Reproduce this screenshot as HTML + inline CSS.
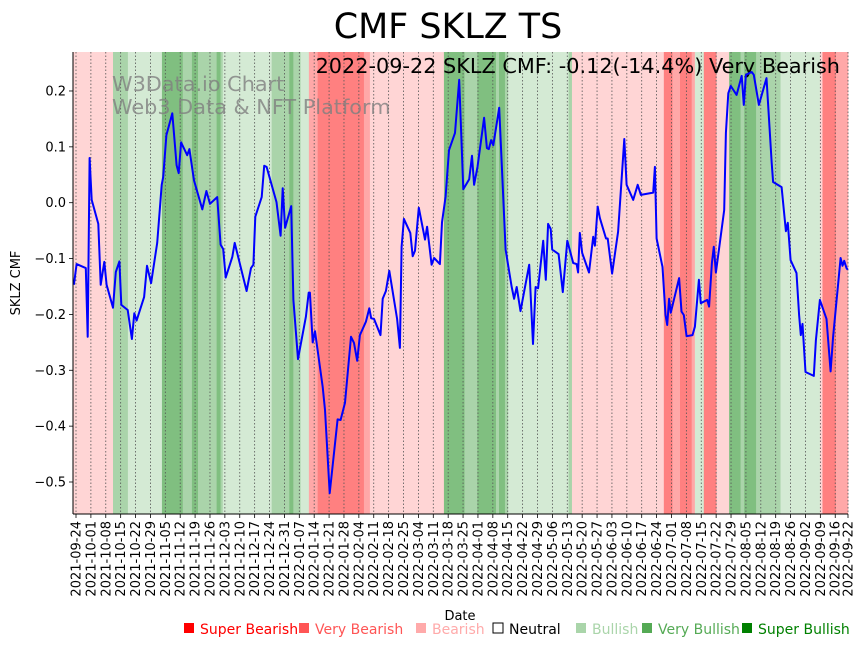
<!DOCTYPE html>
<html><head><meta charset="utf-8"><style>
body{margin:0;background:#fff;}
svg{display:block;font-family:"DejaVu Sans","Liberation Sans",sans-serif;}
</style></head><body>
<svg id="chart" width="867" height="646" viewBox="0 0 867 646">
<text x="448" y="38" font-size="34.9" text-anchor="middle">CMF SKLZ TS</text>
<g id="bands"></g>
<g id="grid"></g>
<text x="112" y="91" font-size="20.8" fill="#808080" fill-opacity="0.8">W3Data.io Chart</text>
<text x="112" y="114" font-size="20.8" fill="#808080" fill-opacity="0.8">Web3 Data &amp; NFT Platform</text>
<text x="840" y="73" font-size="20.8" text-anchor="end">2022-09-22 SKLZ CMF: -0.12(-14.4%) Very Bearish</text>
<path id="line" fill="none" stroke="#0000ff" stroke-width="2" stroke-linejoin="round"></path>
<g id="axes"></g>
<text transform="translate(20,283) rotate(-90)" font-size="13" text-anchor="middle">SKLZ CMF</text>
<text x="460" y="620" font-size="13" text-anchor="middle">Date</text>
<g id="legend" font-size="14"></g>
</svg>
<script>
const yTicks=[0.2,0.1,0.0,-0.1,-0.2,-0.3,-0.4,-0.5];
const yTickLabels=["0.2","0.1","0.0","−0.1","−0.2","−0.3","−0.4","−0.5"];
const startDate="2021-09-24";
const totalDays=363;
const bandStart=[-1.5,17.4,24.4,40.4,50.2,54.5,57.4,66.1,68,69,92,100.3,102.2,105.6,109.5,113.6,135.4,138.2,173,182.7,188.7,197.5,198.9,201.7,203.2,231.6,233.2,276.4,280.5,284,289.5,291,295.2,301.2,307.1,312.5,314.2,319.8,331.3,349.8,351,357.3];
const bandEnd=[17.4,24.4,40.4,50.2,54.5,57.4,66.1,68,69,92,100.3,102.2,105.6,109.5,113.6,135.4,138.2,173,182.7,188.7,197.5,198.9,201.7,203.2,231.6,233.2,276.4,280.5,284,289.5,291,295.2,301.2,307.1,312.5,314.2,319.8,331.3,349.8,351,357.3,363.5];
const bandLevel=[-1,2,1,3,2,3,2,3,2,1,2,3,2,1,-2,-3,-2,-1,3,2,3,2,3,2,1,2,-1,-3,-2,-3,-2,1,-3,-1,3,2,3,2,1,-1,-3,-2];
const days=[-1,0.3,4.6,5.5,6.4,7.4,10.5,11.6,13.3,14.4,17.4,18.7,20.4,21.3,24.3,26.3,27.4,28.5,32,33.4,35.3,38.2,40.3,41,42.5,45.3,47.3,48.3,49.4,52.3,53.3,55.5,59.4,61.3,63,66.4,68,69.2,70.4,73.5,74.6,80.2,82.3,83.4,84.3,87.3,88.5,89.6,94.3,96.2,97.2,98.3,101.2,102.2,104.4,108.1,109.4,110,111.3,112.4,116,117.1,119.3,123,124.4,126.5,129.3,130.7,132.2,133.5,136.3,137.9,138.8,140.1,143.2,144.2,145.7,147.3,151,152.3,153.1,154.2,157.2,158.3,159.4,161.2,164.1,165.1,167.2,168.4,171.1,172.1,173.8,175.4,178.2,180.2,182.1,184.9,186.2,187.2,188.8,191.9,193.2,194.1,195.2,196.2,199,202,204.8,206,207.2,209,213.1,214.9,216.1,217.3,219.7,220.9,222,223.2,223.9,226.9,228.9,231,233.8,235.4,236.1,236.9,238,241.2,243.2,244,245.3,246.3,249.2,250,252.1,254.9,257.8,258.9,262,264.1,265.6,271.4,272.2,273,275.8,277.2,278,278.9,279.7,283.6,284.7,285.8,287.1,289.9,291,292.9,293.8,296.8,297.7,299,299.9,300.9,304.8,305.6,306.7,307.9,310.6,313,314,315,317.7,318.7,321.1,324.7,327.1,327.8,331.8,333.8,334.7,336,338.8,340,340.8,341.6,343,346.9,347.9,349.8,352.9,354.8,356,359.5,360.4,361.2,362.3,362.9];
const cmf=[-0.147,-0.11,-0.117,-0.24,0.08,0.005,-0.038,-0.147,-0.106,-0.147,-0.188,-0.124,-0.105,-0.183,-0.192,-0.244,-0.198,-0.211,-0.169,-0.113,-0.144,-0.072,0.032,0.046,0.121,0.16,0.067,0.053,0.108,0.085,0.096,0.04,-0.012,0.021,-0.002,0.01,-0.075,-0.083,-0.134,-0.097,-0.072,-0.158,-0.117,-0.111,-0.025,0.01,0.066,0.064,0.001,-0.059,0.026,-0.045,-0.006,-0.174,-0.28,-0.204,-0.161,-0.161,-0.25,-0.23,-0.33,-0.371,-0.52,-0.388,-0.389,-0.358,-0.24,-0.251,-0.283,-0.237,-0.213,-0.189,-0.207,-0.208,-0.237,-0.172,-0.158,-0.122,-0.208,-0.26,-0.079,-0.029,-0.054,-0.096,-0.086,-0.009,-0.066,-0.043,-0.111,-0.099,-0.11,-0.035,0.011,0.094,0.125,0.22,0.024,0.042,0.084,0.032,0.064,0.152,0.098,0.096,0.112,0.103,0.17,-0.084,-0.15,-0.172,-0.151,-0.194,-0.111,-0.253,-0.151,-0.153,-0.068,-0.138,-0.038,-0.047,-0.084,-0.092,-0.16,-0.068,-0.108,-0.11,-0.125,-0.054,-0.09,-0.125,-0.061,-0.077,-0.007,-0.027,-0.064,-0.064,-0.127,-0.052,0.114,0.032,0.005,0.032,0.014,0.018,0.064,-0.064,-0.115,-0.201,-0.219,-0.172,-0.197,-0.135,-0.195,-0.201,-0.239,-0.237,-0.222,-0.138,-0.18,-0.174,-0.186,-0.108,-0.079,-0.125,-0.013,0.125,0.196,0.209,0.193,0.227,0.175,0.229,0.234,0.229,0.175,0.223,0.071,0.037,0.028,-0.051,-0.036,-0.103,-0.126,-0.201,-0.237,-0.217,-0.303,-0.31,-0.246,-0.174,-0.208,-0.302,-0.24,-0.099,-0.113,-0.104,-0.117,-0.12];
const legendLabels=["Super Bearish","Very Bearish","Bearish","Neutral","Bullish","Very Bullish","Super Bullish"];
const legendColors=["#ff0000","#ff5555","#ffaaaa","#ffffff","#aad5aa","#55aa55","#008000"];

const NS="http://www.w3.org/2000/svg";
const PL=73,PR=848,PT=52,PB=514,X0=76,XPD=(848-76)/363;
function xs(d){return X0+d*XPD;}
function ys(v){return 202.7-v*558.6;}
function mk(tag,attrs,parent){const e=document.createElementNS(NS,tag);for(const k in attrs)e.setAttribute(k,attrs[k]);parent.appendChild(e);return e;}
const levelColor={"-3":"#ff8080","-2":"#ffa8a8","-1":"#ffd5d5","0":"#ffffff","1":"#d4ead4","2":"#aad4aa","3":"#80bf80"};
const gb=document.getElementById('bands');
for(let i=0;i<bandStart.length;i++){
  const x1=Math.max(PL,xs(bandStart[i])),x2=Math.min(PR,xs(bandEnd[i]));
  const r=mk('rect',{x:x1,y:PT,width:Math.max(0,x2-x1+0.3),height:PB-PT,fill:levelColor[bandLevel[i]]},gb);
  
  
}
const gg=document.getElementById('grid'),ga=document.getElementById('axes');
const tickDays=[];for(let d=0;d<=totalDays;d+=7)tickDays.push(d);tickDays.push(totalDays);
const sd=new Date(startDate+"T00:00:00Z");
tickDays.forEach(d=>{
  const x=xs(d);
  mk('line',{x1:x,y1:PT,x2:x,y2:PB,stroke:'#555',"stroke-width":0.8,"stroke-dasharray":"1.5,2"},gg);
  mk('line',{x1:x,y1:PB,x2:x,y2:PB+4,stroke:'#000',"stroke-width":0.8},ga);
  const dt=new Date(sd.getTime()+d*86400000);
  const lab=dt.toISOString().slice(0,10);
  const t=mk('text',{transform:`translate(${x+4.5},${PB+7}) rotate(-90)`,"font-size":13,"text-anchor":"end"},ga);
  t.textContent=lab;
  
  
});
yTicks.forEach((v,i)=>{
  const y=ys(v);
  mk('line',{x1:PL-4,y1:y,x2:PL,y2:y,stroke:'#000',"stroke-width":0.8},ga);
  const t=mk('text',{x:PL-7,y:y+4.5,"font-size":13,"text-anchor":"end"},ga);
  t.textContent=yTickLabels[i];
  
  
});
mk('line',{x1:PL,y1:PT,x2:PL,y2:PB,stroke:'#000',"stroke-width":1},ga);
mk('line',{x1:PL,y1:PB,x2:PR,y2:PB,stroke:'#000',"stroke-width":1},ga);
document.getElementById('line').setAttribute('d',days.map((d,i)=>(i?'L':'M')+Math.max(PL,xs(d)).toFixed(1)+','+ys(cmf[i]).toFixed(1)).join(''));
const lg=document.getElementById('legend');
const lx=[183,298,415,492,575,641,741];
legendLabels.forEach((l,i)=>{
  const r=mk('rect',{x:lx[i]+1,y:623,width:10,height:10,fill:legendColors[i],stroke:i==3?'#000':'none',"stroke-width":1},lg);
  
  
  const t=mk('text',{x:lx[i]+17,y:634,fill:i==3?'#000':legendColors[i]},lg);
  t.textContent=l;
  
  
});
</script>
</body></html>
